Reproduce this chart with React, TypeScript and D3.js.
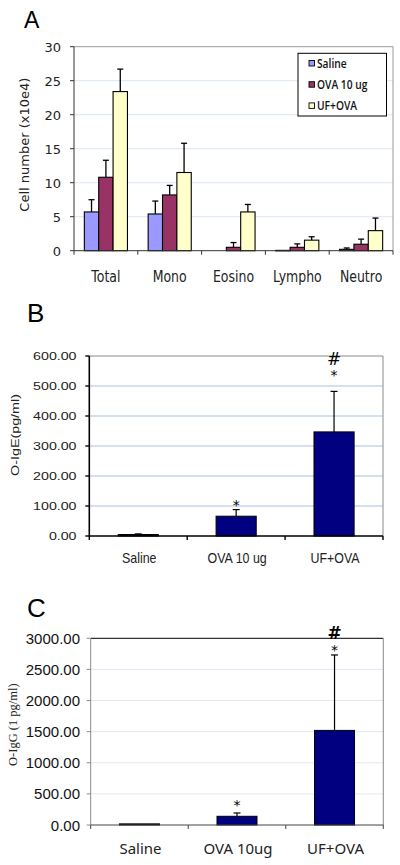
import React from "react";
import * as d3 from "d3";

// ---------- Panel A data ----------
const cellCategories = ["Total", "Mono", "Eosino", "Lympho", "Neutro"];
const groups = ["Saline", "OVA 10 ug", "UF+OVA"];
const salineCells = [5.7, 5.4, 0, 0.05, 0.2];
const salineCellsErr = [1.8, 1.9, 0, 0, 0.2];
const ovaCells = [10.8, 8.2, 0.5, 0.5, 0.95];
const ovaCellsErr = [2.5, 1.4, 0.7, 0.5, 0.75];
const ufCells = [23.4, 11.5, 5.7, 1.55, 2.95];
const ufCellsErr = [3.3, 4.3, 1.1, 0.5, 1.85];
const cellTicks = [0, 5, 10, 15, 20, 25, 30];
const groupColors = ["#9999FF", "#993366", "#FFFFCC"];

// ---------- Panel B data ----------
const igeCategories = ["Saline", "OVA 10 ug", "UF+OVA"];
const igeValues = [5, 66, 347];
const igeErr = [2, 22, 135];
const igeTicks = [0, 100, 200, 300, 400, 500, 600];
const igeMarks = [
  { cat: "OVA 10 ug", text: "*", at: 105 },
  { cat: "UF+OVA", text: "*", at: 537 },
  { cat: "UF+OVA", text: "#", at: 590 },
];

// ---------- Panel C data ----------
const iggCategories = ["Saline", "OVA 10ug", "UF+OVA"];
const iggValues = [18, 140, 1520];
const iggErr = [0, 53, 1212];
const iggTicks = [0, 500, 1000, 1500, 2000, 2500, 3000];
const iggMarks = [
  { cat: "OVA 10ug", text: "*", at: 320 },
  { cat: "UF+OVA", text: "*", at: 2810 },
  { cat: "UF+OVA", text: "#", at: 3085 },
];

type TxtProps = {
  x: number; y: number; size: number; family?: string; sx?: number; sy?: number;
  anchor?: "start" | "middle" | "end"; weight?: number | string; rotate?: number;
  fill?: string; children: React.ReactNode; baseline?: string;
};
const Txt = ({ x, y, size, family = "Liberation Sans, Arial, sans-serif", sx = 1, sy = 1, anchor = "middle", weight = 400, rotate = 0, fill = "#000", children, baseline }: TxtProps) => (
  <text
    transform={`translate(${x},${y}) rotate(${rotate}) scale(${sx},${sy})`}
    fontSize={size}
    fontFamily={family}
    textAnchor={anchor}
    fontWeight={weight}
    fill={fill}
    dominantBaseline={baseline as any}
  >
    {children}
  </text>
);

const PanelA = () => {
  const left = 74, right = 393, top = 46.7, bottom = 250.7;
  const x = d3.scaleBand<string>().domain(cellCategories).range([left, right]).padding(0);
  const xs = d3.scaleBand<string>().domain(groups).range([0, x.bandwidth()]).paddingInner(0).paddingOuter(0.72);
  const y = d3.scaleLinear().domain([0, 30]).range([bottom, top]);
  const series = [
    { name: groups[0], v: salineCells, e: salineCellsErr },
    { name: groups[1], v: ovaCells, e: ovaCellsErr },
    { name: groups[2], v: ufCells, e: ufCellsErr },
  ];
  const cap = 3;
  return (
    <g>
      <Txt x={24} y={28} size={23} anchor="start">A</Txt>
      {cellTicks.slice(1, -1).map((t) => (
        <line key={t} x1={left} x2={right} y1={y(t)} y2={y(t)} stroke="#dbe6f4" strokeWidth={1} />
      ))}
      <line x1={left} x2={right} y1={y(30)} y2={y(30)} stroke="#9a9a9a" />
      <line x1={right} x2={right} y1={y(30)} y2={y(0)} stroke="#9a9a9a" />
      {series.map((s, si) =>
        cellCategories.map((c, ci) => {
          const bx = (x(c) as number) + (xs(s.name) as number);
          const w = xs.bandwidth();
          const v = s.v[ci];
          const e = s.e[ci];
          const cx = bx + w / 2;
          return (
            <g key={`${si}-${ci}`}>
              {e > 0 && (
                <g stroke="#000" strokeWidth={1.3}>
                  <line x1={cx} x2={cx} y1={y(v)} y2={y(v + e)} />
                  <line x1={cx - cap} x2={cx + cap} y1={y(v + e)} y2={y(v + e)} />
                </g>
              )}
              {v > 0 && (
                <rect x={bx} y={y(v)} width={w} height={Math.max(y(0) - y(v), 0.5)} fill={groupColors[si]} stroke="#000" strokeWidth={1.1} />
              )}
            </g>
          );
        })
      )}
      <line x1={left} x2={left} y1={y(30)} y2={y(0)} stroke="#333" strokeWidth={1} />
      <line x1={left} x2={right} y1={y(0)} y2={y(0)} stroke="#333" strokeWidth={1} />
      {cellTicks.map((t) => (
        <g key={t}>
          <line x1={left - 4} x2={left} y1={y(t)} y2={y(t)} stroke="#333" />
          <Txt x={61} y={y(t) + 4.8} size={13} family="DejaVu Sans, sans-serif" anchor="end" sy={0.92} fill="#222">{t}</Txt>
        </g>
      ))}
      {cellCategories.map((c, i) => (
        <line key={c} x1={x(c) as number} x2={x(c) as number} y1={y(0)} y2={y(0) + 4} stroke="#333" />
      ))}
      <line x1={right} x2={right} y1={y(0)} y2={y(0) + 4} stroke="#333" />
      {cellCategories.map((c) => (
        <Txt key={c} x={(x(c) as number) + x.bandwidth() / 2} y={282} size={12.5} family="DejaVu Sans, sans-serif" sy={1.28} fill="#222">{c}</Txt>
      ))}
      <Txt x={28.5} y={(top + bottom) / 2 - 4} size={13} family="DejaVu Sans, sans-serif" rotate={-90} fill="#222">Cell number (x10e4)</Txt>
      {/* legend */}
      <rect x={298} y={53.3} width={88.5} height={62.7} fill="#fff" stroke="#000" strokeWidth={1} />
      {groups.map((g, i) => (
        <g key={g}>
          <rect x={309} y={60.5 + i * 21.2} width={5.5} height={5.5} fill={groupColors[i]} stroke="#000" strokeWidth={0.9} />
          <Txt x={317} y={67.5 + i * 21.2} size={11} family="Open Sans, sans-serif" weight={600} anchor="start" sx={0.93} sy={1.08} fill="#111">{g}</Txt>
        </g>
      ))}
    </g>
  );
};

type SimpleProps = {
  letter: string; letterY: number;
  left: number; right: number; top: number; bottom: number;
  cats: string[]; values: number[]; errs: number[]; ticks: number[];
  marks: { cat: string; text: string; at: number }[];
  title: string;
  variant: "B" | "C";
};

const SimplePanel = (p: SimpleProps) => {
  const x = d3.scaleBand<string>().domain(p.cats).range([p.left, p.right]).padding(0);
  const y = d3.scaleLinear().domain([0, p.ticks[p.ticks.length - 1]]).range([p.bottom, p.top]);
  const bw = x.bandwidth() * 0.41;
  const isB = p.variant === "B";
  const gridColor = isB ? "#c3d6ee" : "#dfe8f3";
  const leftAxisColor = isB ? "#000" : "#8a8a8a";
  const topColor = isB ? "#8a8a8a" : "#000";
  const maxT = p.ticks[p.ticks.length - 1];
  const cap = 3.5;
  return (
    <g>
      <Txt x={27} y={p.letterY} size={26} anchor="start">{p.letter}</Txt>
      {p.ticks.slice(1, -1).map((t) => (
        <line key={t} x1={p.left} x2={p.right} y1={y(t)} y2={y(t)} stroke={gridColor} strokeWidth={isB ? 1.3 : 1} />
      ))}
      <line x1={p.left} x2={p.right} y1={y(maxT)} y2={y(maxT)} stroke={topColor} strokeWidth={1} />
      <line x1={p.right} x2={p.right} y1={y(maxT)} y2={y(0)} stroke="#8a8a8a" strokeWidth={1} />
      {p.cats.map((c, i) => {
        const cx = (x(c) as number) + x.bandwidth() / 2;
        const v = p.values[i];
        const e = p.errs[i];
        return (
          <g key={c}>
            {e > 0 && (
              <g stroke="#000" strokeWidth={1.2}>
                <line x1={cx} x2={cx} y1={y(v)} y2={y(v + e)} />
                <line x1={cx - cap} x2={cx + cap} y1={y(v + e)} y2={y(v + e)} />
              </g>
            )}
            <rect x={cx - bw / 2} y={y(v)} width={bw} height={y(0) - y(v)} fill="#000080" stroke="#000" strokeWidth={1} />
          </g>
        );
      })}
      <line x1={p.left} x2={p.left} y1={y(maxT)} y2={y(0)} stroke={leftAxisColor} strokeWidth={isB ? 1.6 : 1} />
      <line x1={p.left} x2={p.right} y1={y(0)} y2={y(0)} stroke={isB ? "#000" : "#444"} strokeWidth={isB ? 1.4 : 1} />
      {p.ticks.map((t) => (
        <g key={t}>
          <line x1={p.left - 4} x2={p.left} y1={y(t)} y2={y(t)} stroke={leftAxisColor} strokeWidth={isB ? 1.4 : 1} />
          {isB ? (
            <Txt x={76.5} y={y(t) + 3.5} size={10} sx={1.42} anchor="end" fill="#222">{d3.format(".2f")(t)}</Txt>
          ) : (
            <Txt x={80} y={y(t) + 5.5} size={15} anchor="end" fill="#111">{d3.format(".2f")(t)}</Txt>
          )}
        </g>
      ))}
      {[...p.cats.map((c) => x(c) as number), p.right].map((xx, i) => (
        <line key={i} x1={xx} x2={xx} y1={y(0)} y2={y(0) + 4} stroke={isB ? "#000" : "#444"} strokeWidth={isB ? 1.4 : 1} />
      ))}
      {p.cats.map((c) => {
        const cx = (x(c) as number) + x.bandwidth() / 2;
        return isB ? (
          <Txt key={c} x={cx + 1} y={562.5} size={13.5} sx={0.92} sy={1.05} fill="#222" letter-spacing={-0.3}>{c}</Txt>
        ) : (
          <Txt key={c} x={cx + 1} y={854} size={15} family="Noto Sans, sans-serif" sx={1.0} fill="#222">{c}</Txt>
        );
      })}
      {p.marks.map((m, i) => {
        const cx = (x(m.cat) as number) + x.bandwidth() / 2;
        const isHash = m.text === "#";
        return (
          <Txt key={i} x={cx} y={y(m.at)} size={isHash ? 17 : 14} family="DejaVu Sans, sans-serif" baseline="central" weight={isHash && !isB ? 700 : 400} sx={isHash ? 1.0 : 1.0} fill="#000">
            {m.text}
          </Txt>
        );
      })}
      {isB ? (
        <Txt x={19} y={(p.top + p.bottom) / 2 - 11} size={11} sx={1.3} rotate={-90} fill="#222">{p.title}</Txt>
      ) : (
        <Txt x={17} y={(p.top + p.bottom) / 2 - 7} size={12.5} family="Liberation Serif, serif" rotate={-90} fill="#222">{p.title}</Txt>
      )}
    </g>
  );
};

export default function App() {
  return (
    <svg width={400} height={865} style={{ position: "absolute", left: 0, top: 0, background: "#fff" }}>
      <rect width={400} height={865} fill="#fff" />
      <PanelA />
      <SimplePanel
        letter="B" letterY={322}
        left={89.3} right={383} top={356} bottom={536}
        cats={igeCategories} values={igeValues} errs={igeErr} ticks={igeTicks}
        marks={igeMarks} title="O-IgE(pg/ml)" variant="B"
      />
      <SimplePanel
        letter="C" letterY={617}
        left={90.7} right={383.3} top={638.3} bottom={825}
        cats={iggCategories} values={iggValues} errs={iggErr} ticks={iggTicks}
        marks={iggMarks} title="O-IgG (1 pg/ml)" variant="C"
      />
    </svg>
  );
}
